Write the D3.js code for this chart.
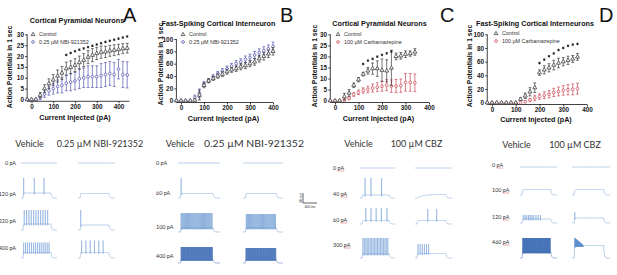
<!DOCTYPE html>
<html><head><meta charset="utf-8">
<script src="https://cdn.jsdelivr.net/npm/d3@7"></script>
<style>body{margin:0;background:#fff}svg{display:block}</style>
</head><body>
<svg id="c" width="617" height="275"></svg>
<script>
// ================= DATA =================
const xTicks = [0, 100, 200, 300, 400];
const yTicks30 = [0, 5, 10, 15, 20, 25, 30];
const yTicks100 = [0, 20, 40, 60, 80, 100];

// Panel A – Cortical Pyramidal Neurons, NBI-921352
const currentA = [-20,0,20,40,60,80,100,120,140,160,180,200,220,240,260,280,300,320,340,360,380,400,420,440];
const controlA = [0,0,0,2,5,7.3,9,10.8,12.2,14.2,14.8,15.8,17,18.1,19.5,20.4,21.2,21.8,21.9,22.4,22.7,23,23.4,23.6];
const controlErrA = [0,0,0,1.2,1.8,2.2,2.5,2.8,3,3,3,3,3,3,3,3,2.8,2.8,2.6,2.5,2.5,2.4,2.3,2.2];
const nbiA = [0,0,0,1,2.5,4,5,6,6.5,7.5,8,8.5,9.5,10,10.5,10.5,10.5,11,11.5,12,11.5,14,11.5,11.3];
const nbiErrA = [0,0,0,1,1.5,2,2.5,3,3.5,3.5,4,4,4.5,4.5,5,5,5,5.5,5.5,5.5,5.5,4.5,6,6];
const sigXA = [160,180,200,220,240,260,280,300,320,340,360,380,400,420,440];
const sigYA = [20.5,21.4,22.2,22.9,23.5,24.1,24.7,25.3,25.9,26.5,27,27.5,28,28.5,29];

// Panel B – Fast-Spiking Cortical Interneuron, NBI-921352
const currentB = [-20,0,20,40,60,80,100,120,140,160,180,200,220,240,260,280,300,320,340,360,380,400];
const controlB = [0,0,0,0,1,9,25,32,36,40,43,47,50,52,55,57,60,63,68,72,76,80];
const controlErrB = [0,0,0,0,1.5,8,4,3,3,3.5,4,4,4,4.5,5,5,5,5.5,5.5,6,6,6];
const nbiB = [0,0,0,0,5,12,27,33,39,44,48,52,56,60,63,67,70,74,78,81,84,88];
const nbiErrB = [0,0,0,0,4,7,4,3,3,3.5,4,4,4.5,5,5,5.5,5.5,6,6,6.5,6.5,7];

// Panel C – Cortical Pyramidal Neurons, Carbamazepine
const currentC = [-20,0,20,40,60,80,100,120,140,160,180,200,220,240,260,280,300,320,340];
const controlC = [0,0,0,1.8,3.5,7,9.5,12,13.5,14.5,14.5,13.8,13.5,14.8,20,20.3,21,21.3,22];
const controlErrC = [0,0,0,1.5,1.5,1,1,0.8,1.5,2.5,3.5,5,5,8,1.5,1.5,1.5,1.2,1.5];
const cbzC = [0,0,0,0.3,1.2,2.8,3.8,4.6,5.1,5.7,6.1,6.5,7,6.6,6.6,6.8,8.3,8.3,8.1];
const cbzErrC = [0,0,0,0.4,0.8,0.8,1,1.2,1.5,1.8,2,2.2,2.5,2.8,3,3,4,4,4];
const sigXC = [120,140,160,180,200,220,240];
const sigYC = [16.6,18.1,18.9,19.9,20.7,21.4,22.2];

// Panel D – Fast-Spiking Cortical Interneurons, Carbamazepine
const currentD = [-20,0,20,40,60,80,100,120,140,160,180,200,220,240,260,280,300,320,340,360];
const controlD = [0,0,0,0,0,0,0,5,10,16,22,44,48,51,55,58,60,62,64,67];
const controlErrD = [0,0,0,0,0,0,0,2,4,6,7,4,6,6,7,7,6,6,5,5];
const cbzD = [0,0,0,0,0,0,0,0,1.5,4,7,9,11,12.5,15,16.5,18,19,19.5,20.5];
const cbzErrD = [0,0,0,0,0,0,0,0,1.5,2.5,4,4,5,5.5,6,6.5,7,7.5,8,8];
const sigXD = [200,220,240,260,280,300,320,340,360];
const sigYD = [58,63,68,72,77,80,83,85,86];

// Example voltage traces (spike timing as fractions of the 1 s step)
const traceLabelsA = ["0 pA","120 pA","220 pA","400 pA"];
const tracesA_veh = [{step:0},{step:20,peak:80,times:[0.02,0.4,0.75]},{step:24,peak:80,train:[11,0.04,0.88]},{step:22,peak:62,train:[14,0.02,0.93]}];
const tracesA_drug = [{step:0},{step:18},{step:20,peak:80,times:[0.02]},{step:22,peak:70,train:[6,0.05,0.8]}];
const traceLabelsB = ["0 pA","60 pA","100 pA","400 pA"];
const tracesB_veh = [{step:0},{step:18,peak:80,times:[0.02]},{step:16,peak:76,train:[30,0.02,0.97]},{step:14,peak:64,train:[55,0.02,0.98]}];
const tracesB_drug = [{step:0},{step:18},{step:16,peak:72,train:[28,0.03,0.97]},{step:14,peak:60,train:[50,0.02,0.98]}];
const traceLabelsC = ["0 pA","40 pA","60 pA","300 pA"];
const tracesC_veh = [{step:0},{step:12,peak:80,times:[0.11,0.33,0.72]},{step:14,peak:64,times:[0.14,0.33,0.52,0.71,0.92]},{step:16,peak:80,train:[18,0.03,0.95]}];
const tracesC_drug = [{step:0},{step:14,tau:180},{step:14,peak:60,times:[0.37,0.68]},{step:18,peak:56,train:[6,0.03,0.4]}];
const traceLabelsD = ["0 pA","100 pA","120 pA","460 pA"];
const tracesD_veh = [{step:0},{step:22},{step:16,peak:32,bursts:[[0.04,0.4,7],[0.48,0.64,3]]},{step:24,peak:80,train:[60,0.02,0.98]}];
const tracesD_drug = [{step:0},{step:22},{step:20,peak:44,times:[0.02]},{step:50,peak:80,peakEnd:52,train:[30,0.02,0.3]}];

// ================= LAYOUT =================
const svg = d3.select("#c");
const FONT = "'Liberation Sans', Arial, sans-serif";
const C_CTRL = "#3a3a3a", C_NBI = "#5656b0", C_CBZ = "#cc4a55";

const panels = [
  {letter:"A", lx:123, title:"Cortical Pyramidal Neurons", tx:77, ty:22.5,
   axX:27.15, x0:31.5, x400:118.5, xMax:450, y0:99.5, yTop:34.3, yMax:30, yTicks:yTicks30,
   ylx:9, yly:67, xlx:75, xly:120, leg:[33,34.5], drugName:"0.25 \u00b5M NBI-921352",
   cur:currentA, ctrl:controlA, ctrlErr:controlErrA, drug:nbiA, drugErr:nbiErrA, dcol:C_NBI, sigX:sigXA, sigY:sigYA},
  {letter:"B", lx:280, title:"Fast-Spiking Cortical Interneuron", tx:218.5, ty:25.5,
   axX:176.4, x0:181, x400:273, xMax:400, y0:100.7, yTop:39, yMax:100, yTicks:yTicks100,
   ylx:160, yly:64, xlx:223.5, xly:120.5, leg:[183,34.5], drugName:"0.25 \u00b5M NBI-921352",
   cur:currentB, ctrl:controlB, ctrlErr:controlErrB, drug:nbiB, drugErr:nbiErrB, dcol:C_NBI, sigX:[], sigY:[]},
  {letter:"C", lx:440, title:"Cortical Pyramidal Neurons", tx:379.5, ty:25.5,
   axX:330.3, x0:335, x400:429, xMax:400, y0:100.7, yTop:34.3, yMax:30, yTicks:yTicks30,
   ylx:314.5, yly:66, xlx:378.5, xly:120.5, leg:[338,34.5], drugName:"100 \u00b5M Carbamazepine",
   cur:currentC, ctrl:controlC, ctrlErr:controlErrC, drug:cbzC, drugErr:cbzErrC, dcol:C_CBZ, sigX:sigXC, sigY:sigYC},
  {letter:"D", lx:599, title:"Fast-Spiking Cortical Interneurons", tx:535, ty:26,
   axX:487.25, x0:492, x400:587, xMax:400, y0:102.7, yTop:34.3, yMax:100, yTicks:yTicks100,
   ylx:469.5, yly:66, xlx:536, xly:122, leg:[496,33.5], drugName:"100 \u00b5M Carbamazepine",
   cur:currentD, ctrl:controlD, ctrlErr:controlErrD, drug:cbzD, drugErr:cbzErrD, dcol:C_CBZ, sigX:sigXD, sigY:sigYD}
];

function drawPanel(p){
  const g = svg.append("g");
  const x = d3.scaleLinear().domain([0,400]).range([p.x0,p.x400]);
  const y = d3.scaleLinear().domain([0,p.yMax]).range([p.y0,p.yTop]);
  const axisY = p.y0 + 1.8;
  const xa = g.append("g").attr("transform",`translate(0,${axisY})`)
    .call(d3.axisBottom(x).tickValues(xTicks).tickSize(2).tickSizeOuter(0).tickPadding(1.2));
  xa.select(".domain").attr("d",`M${p.axX},0H${x(p.xMax)}`);
  const ya = g.append("g").attr("transform",`translate(${p.axX},0)`)
    .call(d3.axisLeft(y).tickValues(p.yTicks).tickSize(2).tickSizeOuter(0).tickPadding(1.2));
  ya.select(".domain").attr("d",`M0,${y(p.yMax)}V${axisY}`);
  [xa,ya].forEach(a=>{
    a.selectAll("path,line").attr("stroke","#111").attr("stroke-width",0.8);
    a.selectAll("text").attr("font-family",FONT).attr("font-size",6.4).attr("font-weight","bold").attr("fill","#222");
  });
  function series(vals, errs, col, shape){
    const pts = p.cur.map((c,i)=>({c, v:vals[i], e:errs[i]}));
    const eb = g.append("g").attr("stroke",col).attr("stroke-width",0.7);
    pts.filter(d=>d.e>0).forEach(d=>{
      const x1 = x(d.c), yt = y(d.v+d.e), yb = y(Math.max(d.v-d.e, -0.01*p.yMax));
      eb.append("line").attr("x1",x1).attr("x2",x1).attr("y1",yt).attr("y2",yb);
      eb.append("line").attr("x1",x1-1.4).attr("x2",x1+1.4).attr("y1",yt).attr("y2",yt);
      eb.append("line").attr("x1",x1-1.4).attr("x2",x1+1.4).attr("y1",yb).attr("y2",yb);
    });
    const sym = d3.symbol().type(shape).size(shape===d3.symbolTriangle?7:6);
    g.append("g").selectAll("path").data(pts).join("path")
      .attr("d",sym).attr("transform",d=>`translate(${x(d.c)},${y(d.v)})`)
      .attr("fill","#fff").attr("stroke",col).attr("stroke-width",0.75);
  }
  series(p.drug, p.drugErr, p.dcol, d3.symbolCircle);
  series(p.ctrl, p.ctrlErr, C_CTRL, d3.symbolTriangle);
  g.append("g").selectAll("path").data(p.sigX.map((c,i)=>({c,v:p.sigY[i]}))).join("path")
    .attr("d",d3.symbol().type(d3.symbolAsterisk).size(4.5))
    .attr("transform",d=>`translate(${x(d.c)},${y(d.v)})`)
    .attr("stroke","#111").attr("stroke-width",0.85).attr("fill","none");
  const [lx,ly] = p.leg;
  g.append("path").attr("d",d3.symbol().type(d3.symbolTriangle).size(6)())
    .attr("transform",`translate(${lx},${ly})`).attr("fill","#fff").attr("stroke",C_CTRL).attr("stroke-width",0.75);
  g.append("path").attr("d",d3.symbol().type(d3.symbolCircle).size(6)())
    .attr("transform",`translate(${lx},${ly+7.5})`).attr("fill","#fff").attr("stroke",p.dcol).attr("stroke-width",0.75);
  g.append("text").attr("x",lx+6).attr("y",ly+1.9).text("Control")
    .attr("font-family",FONT).attr("font-size",5.4).attr("fill","#333");
  g.append("text").attr("x",lx+6).attr("y",ly+9.4).text(p.drugName)
    .attr("font-family",FONT).attr("font-size",5.4).attr("fill","#333");
  g.append("text").attr("x",p.tx).attr("y",p.ty).attr("text-anchor","middle").text(p.title)
    .attr("font-family",FONT).attr("font-size",7.2).attr("font-weight","bold").attr("fill","#111");
  g.append("text").attr("x",p.xlx).attr("y",p.xly).attr("text-anchor","middle").text("Current Injected (pA)")
    .attr("font-family",FONT).attr("font-size",7.2).attr("font-weight","bold").attr("fill","#111");
  g.append("text").attr("transform",`translate(${p.ylx+2.5},${p.yly}) rotate(-90)`).attr("text-anchor","middle")
    .text("Action Potentials in 1 sec")
    .attr("font-family",FONT).attr("font-size",6.8).attr("font-weight","bold").attr("fill","#111");
  g.append("text").attr("x",p.lx).attr("y",22).text(p.letter)
    .attr("font-family",FONT).attr("font-size",20).attr("fill","#111");
}
panels.forEach(drawPanel);

// ================= TRACES =================
const TFONT = "Lato, 'Open Sans', sans-serif";
const T_END = 1200, T_ON = 70, T_OFF = 1000;
const tScaleMs = d3.scaleLinear().domain([0,T_END]);

function spikeTimes(s){
  let spikes = [];
  if (s.times) spikes = s.times.slice();
  if (s.train) { const [n,a,b] = s.train; spikes = d3.range(n).map(i => n===1?a:a+(b-a)*i/(n-1)); }
  if (s.bursts) s.bursts.forEach(([a,b,n]) => d3.range(n).forEach(i => spikes.push(a+(b-a)*i/(n-1))));
  return spikes;
}
function buildTrace(s){
  const tau = s.tau || 8;
  const base = t => t < T_ON ? 0 : t <= T_OFF ? s.step*(1-Math.exp(-(t-T_ON)/tau))
                   : s.step*(1-Math.exp(-(T_OFF-T_ON)/tau))*Math.exp(-(t-T_OFF)/22);
  const spikes = spikeTimes(s);
  const dur = T_OFF - T_ON;
  const sp = spikes.map((f,i) => ({t:T_ON+f*dur, pk: s.peakEnd!=null && spikes.length>1 ? s.peak+(s.peakEnd-s.peak)*i/(spikes.length-1) : s.peak}));
  const pts = [];
  for (let t=0; t<=T_END; t+=3) {
    if (sp.some(q => t >= q.t-1 && t <= q.t+3)) continue;
    pts.push([t, base(t)]);
  }
  sp.forEach(q => {
    const b = Math.max(base(q.t), 2);
    pts.push([q.t-0.5, b], [q.t+0.3, q.pk], [q.t+1.6, b-5], [q.t+3, b-2]);
  });
  pts.sort((a,b)=>a[0]-b[0]);
  return pts;
}
const traceColor = s => { const n = spikeTimes(s).length; return n >= 45 ? "#3567b2" : n >= 25 ? "#5a8dcc" : "#6a9ad4"; };

const traceGroups = [
  {labels:traceLabelsA, veh:tracesA_veh, drug:tracesA_drug, drugHead:"0.25 \u00b5M NBI-921352",
   head:[[29.5,144,9],[100,144,9]], labX:16, labAnchor:"end", labY:[163,194,221,248],
   base:[163,198,230,258], cols:[[21,36],[78,37]], squiggle:false},
  {labels:traceLabelsB, veh:tracesB_veh, drug:tracesB_drug, drugHead:"0.25 \u00b5M NBI-921352",
   head:[[180,144,9],[254,144,10.4]], labX:156, labAnchor:"start", labY:[163,193,227,256],
   base:[163,198,232,263], cols:[[178,42],[243,40]], squiggle:false},
  {labels:traceLabelsC, veh:tracesC_veh, drug:tracesC_drug, drugHead:"100 \u00b5M CBZ",
   head:[[358.5,144,9],[416.5,144,9]], labX:333, labAnchor:"start", labY:[168,194,220,245],
   base:[168,198,224,258], cols:[[360,35],[415,37]], squiggle:true},
  {labels:traceLabelsD, veh:tracesD_veh, drug:tracesD_drug, drugHead:"100 \u00b5M CBZ",
   head:[[516.5,145,9],[575,145,9]], labX:492, labAnchor:"start", labY:[165,190,217,242],
   base:[167,195,223,258], cols:[[520,37],[572,38]], squiggle:true}
];

traceGroups.forEach(gr => {
  const g = svg.append("g");
  ["Vehicle", gr.drugHead].forEach((h,i) => {
    g.append("text").attr("x",gr.head[i][0]).attr("y",gr.head[i][1]+3).attr("text-anchor","middle")
      .attr("font-family",TFONT).attr("font-size",gr.head[i][2]).attr("fill","#333").text(h);
  });
  gr.labels.forEach((lab,r) => {
    const t = g.append("text").attr("x",gr.labX).attr("y",gr.labY[r]+1.8).attr("text-anchor",gr.labAnchor)
      .attr("font-family",TFONT).attr("font-size",5.4).attr("fill","#333").text(lab);
    if (gr.squiggle) {
      const node = t.node(), idx = lab.indexOf("pA");
      const x1 = gr.labX + node.getSubStringLength(0, idx), w = node.getSubStringLength(idx, 2);
      g.append("line").attr("x1",x1).attr("x2",x1+w).attr("y1",gr.labY[r]+3).attr("y2",gr.labY[r]+3)
        .attr("stroke","#d94040").attr("stroke-width",0.6).attr("stroke-dasharray","1,0.4");
    }
  });
  [gr.veh, gr.drug].forEach((set,ci) => {
    const [cx, cw] = gr.cols[ci];
    const xs = tScaleMs.copy().range([cx, cx+cw]);
    set.forEach((s,r) => {
      const vy = d3.scaleLinear().domain([0,40]).range([gr.base[r], gr.base[r]-10]);
      const line = d3.line().x(d=>xs(d[0])).y(d=>vy(d[1]));
      g.append("path").attr("d",line(buildTrace(s))).attr("fill","none")
        .attr("stroke",traceColor(s)).attr("stroke-width",0.5).attr("stroke-opacity",0.9)
        .attr("stroke-linejoin","round");
    });
  });
});

// scale bar (40 mV / 400 ms)
const sbx = d3.scaleLinear().domain([0,400]).range([303,317]);
const sby = d3.scaleLinear().domain([0,40]).range([203,193]);
svg.append("path").attr("d",`M${sbx(0)},${sby(40)}V${sby(0)}H${sbx(400)}`).attr("fill","none").attr("stroke","#222").attr("stroke-width",0.7);
svg.append("text").attr("transform",`translate(${sbx(0)-1.5},${sby(20)}) rotate(-90)`).attr("text-anchor","middle")
  .attr("font-family",FONT).attr("font-size",3.4).attr("fill","#333").text("40 mV");
svg.append("text").attr("x",sbx(200)).attr("y",sby(0)+4.5).attr("text-anchor","middle")
  .attr("font-family",FONT).attr("font-size",3.4).attr("fill","#333").text("400 ms");
</script>
</body></html>
